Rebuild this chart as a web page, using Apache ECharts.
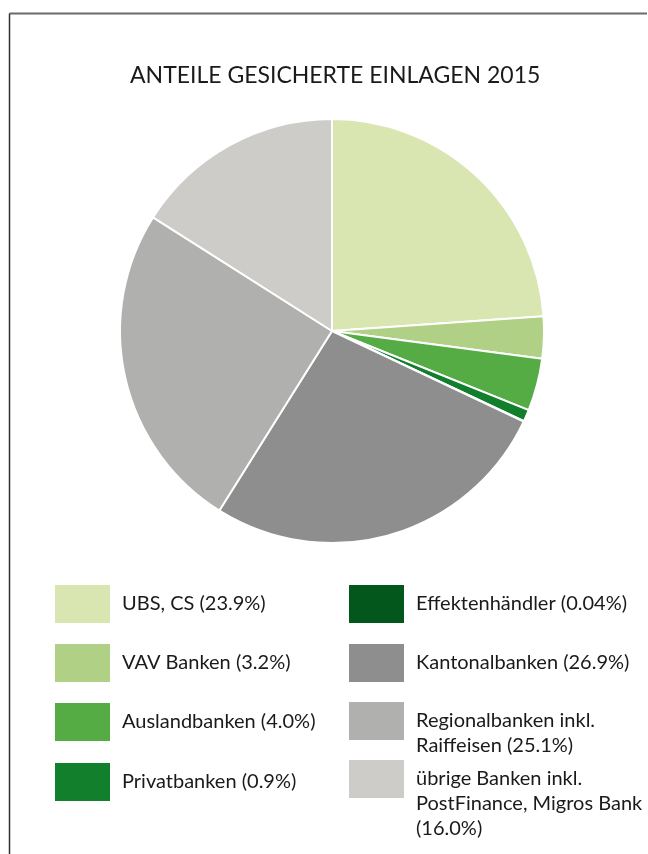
<!DOCTYPE html>
<html>
<head>
<meta charset="utf-8">
<script src="https://cdn.jsdelivr.net/npm/echarts@6/dist/echarts.min.js"></script>
<style>
  html, body { margin: 0; padding: 0; background: #fff; }
  #chart { width: 648px; height: 854px; }
</style>
</head>
<body>
<div id="chart"></div>
<script>
// data
var titleText = "ANTEILE GESICHERTE EINLAGEN 2015";
var categories = [
  "UBS, CS",
  "VAV Banken",
  "Auslandbanken",
  "Privatbanken",
  "Effektenhändler",
  "Kantonalbanken",
  "Regionalbanken inkl.\nRaiffeisen",
  "übrige Banken inkl.\nPostFinance, Migros Bank\n"
];
var shares = [23.9, 3.2, 4.0, 0.9, 0.04, 26.9, 25.1, 16.0];
var shareLabels = ["23.9%", "3.2%", "4.0%", "0.9%", "0.04%", "26.9%", "25.1%", "16.0%"];
var colors = ["#d9e6b1", "#afd085", "#55ab44", "#117f2b", "#03561c", "#8e8e8e", "#b0b0af", "#cdccc8"];

var myChart = echarts.init(document.getElementById("chart"));

// legend slots: two columns of four
// multi-line entries get blank lines on top so the first line sits beside the box
var legendPos = [
  { left: 53, top: 583 }, { left: 53, top: 642 }, { left: 53, top: 701 }, { left: 53, top: 761 },
  { left: 347, top: 583 }, { left: 347, top: 642 }, { left: 347, top: 683.5 }, { left: 347, top: 716.5 }
];

var legends = categories.map(function (name, i) {
  return {
    data: [name],
    left: legendPos[i].left,
    top: legendPos[i].top,
    padding: 0,
    icon: "rect",
    itemWidth: 57,
    itemHeight: 40,
    itemGap: 0,
    selectedMode: false,
    formatter: function (n) {
      var k = categories.indexOf(n);
      var lines = n.split("\n").length;
      var lead = new Array(lines).join("\n");
      var sep = n.charAt(n.length - 1) === "\n" ? "" : " ";
      return lead + n + sep + "(" + shareLabels[k] + ")";
    },
    textStyle: {
      fontFamily: "Lato",
      fontSize: 20,
      lineHeight: 25,
      color: "#1a1a1a",
      padding: [0, 0, 0, 6]
    }
  };
});

var option = {
  animation: false,
  title: {
    text: titleText,
    left: 125,
    top: 59,
    textStyle: { fontFamily: "Lato", fontWeight: "normal", fontSize: 23, color: "#1a1a1a" }
  },
  legend: legends,
  graphic: [
    { type: "line", shape: { x1: 9.5, y1: 13.5, x2: 647, y2: 13.5 }, style: { stroke: "#6b6b6b", lineWidth: 2 } },
    { type: "line", shape: { x1: 9.5, y1: 13.5, x2: 9.5, y2: 854 }, style: { stroke: "#333", lineWidth: 1.5 } }
  ],
  series: [{
    type: "pie",
    center: [332, 331],
    radius: 212,
    startAngle: 90,
    clockwise: true,
    label: { show: false },
    labelLine: { show: false },
    emphasis: { disabled: true },
    itemStyle: { borderColor: "#fff", borderWidth: 2 },
    data: categories.map(function (n, i) {
      return { name: n, value: shares[i], itemStyle: { color: colors[i] } };
    })
  }]
};
myChart.setOption(option);
</script>
</body>
</html>
